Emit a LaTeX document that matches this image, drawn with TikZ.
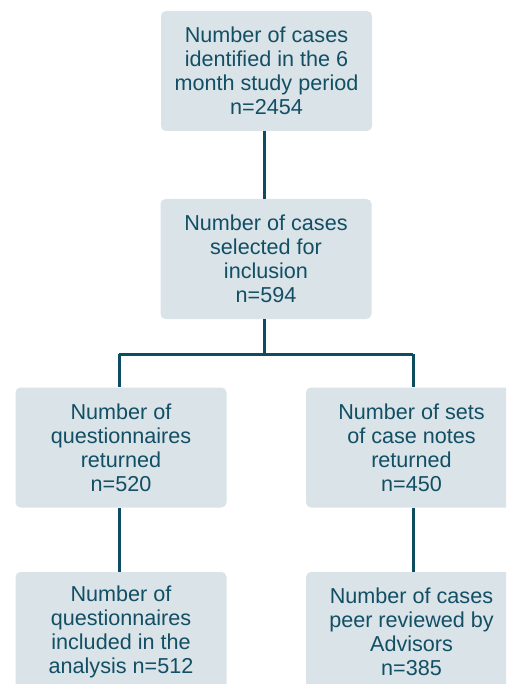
\documentclass[tikz,border=0pt]{standalone}
\usepackage{fontspec}
\setmainfont{Liberation Sans}
\definecolor{boxfill}{HTML}{D9E3E8}
\definecolor{linecol}{HTML}{0E4C62}
\definecolor{textcol}{HTML}{124F64}
\begin{document}
\begin{tikzpicture}[x=1pt,y=1pt,
  flowbox/.style={fill=boxfill, rounded corners=5pt, minimum width=211pt, minimum height=120pt,
    inner sep=0pt, align=center, text=textcol, font=\fontsize{21.6}{24}\selectfont},
  link/.style={draw=linecol, line width=3pt}]
\useasboundingbox (0,0) rectangle (506,-684);
\clip (0,0) rectangle (506,-684);
\node[flowbox] (top) at (266.5,-71) {Number of cases\\identified in the 6\\month study period\\n=2454};
\node[flowbox] (mid) at (266,-259) {Number of cases\\selected for\\inclusion\\n=594};
\node[flowbox] (left) at (121,-447.5) {Number of\\questionnaires\\returned\\n=520};
\node[flowbox] (right) at (411.5,-447.5) {Number of sets\\of case notes\\returned\\n=450};
\node[flowbox] (bleft) at (121,-632) {Number of\\questionnaires\\included in the\\analysis n=512};
\node[flowbox] (bright) at (411.5,-632) {Number of cases\\peer reviewed by\\Advisors\\n=385};
\coordinate (split) at (264,-354);
\draw[link] (top.south -| split) -- (mid.north -| split);
\draw[link] (mid.south -| split) -- (split);
\draw[link] (119,-354) coordinate (lc) -- (413,-354) coordinate (rc);
\draw[link] (lc) -- (left.north -| lc);
\draw[link] (rc) -- (right.north -| rc);
\draw[link] (left.south -| lc) -- (bleft.north -| lc);
\draw[link] (right.south -| rc) -- (bright.north -| rc);
\end{tikzpicture}
\end{document}
